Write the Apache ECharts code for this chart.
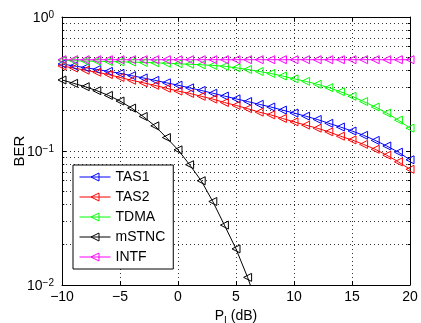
<!DOCTYPE html>
<html>
<head>
<meta charset="utf-8">
<script src="https://cdn.jsdelivr.net/npm/echarts@6/dist/echarts.min.js"></script>
<style>
html, body { margin: 0; padding: 0; background: #fff; }
#chart { width: 421px; height: 323px; }
</style>
</head>
<body>
<div id="chart"></div>
<script>
// P_I in dB, one point per dB
const snr = [-10, -9, -8, -7, -6, -5, -4, -3, -2, -1, 0, 1, 2, 3, 4, 5, 6, 7, 8, 9, 10,
             11, 12, 13, 14, 15, 16, 17, 18, 19, 20];

// BER
const tas1 = [0.446, 0.432, 0.419, 0.406, 0.393, 0.380, 0.365, 0.351, 0.337, 0.323, 0.310,
              0.296, 0.283, 0.270, 0.257, 0.245, 0.234, 0.223, 0.213, 0.202, 0.192,
              0.182, 0.172, 0.161, 0.151, 0.141, 0.131, 0.120, 0.109, 0.098, 0.086];
const tas2 = [0.431, 0.416, 0.401, 0.387, 0.372, 0.354, 0.337, 0.323, 0.309, 0.294, 0.280,
              0.269, 0.256, 0.244, 0.230, 0.219, 0.207, 0.195, 0.186, 0.175, 0.165,
              0.156, 0.148, 0.139, 0.129, 0.121, 0.112, 0.103, 0.093, 0.083, 0.073];
const tdma = [0.474, 0.472, 0.469, 0.468, 0.465, 0.463, 0.461, 0.458, 0.455, 0.452, 0.448,
              0.444, 0.440, 0.435, 0.429, 0.418, 0.406, 0.392, 0.379, 0.363, 0.346,
              0.331, 0.315, 0.297, 0.277, 0.256, 0.234, 0.213, 0.192, 0.170, 0.148];
// mSTNC drops out of the plot after 6 dB
const mstnc = [0.339, 0.320, 0.302, 0.282, 0.260, 0.236, 0.209, 0.181, 0.154, 0.126, 0.102,
               0.079, 0.060, 0.042, 0.028, 0.0186, 0.0114, 0.0065];
const intf = [0.48, 0.48, 0.48, 0.48, 0.48, 0.48, 0.48, 0.48, 0.48, 0.48, 0.48,
              0.48, 0.48, 0.48, 0.48, 0.48, 0.48, 0.48, 0.48, 0.48, 0.48,
              0.48, 0.48, 0.48, 0.48, 0.48, 0.48, 0.48, 0.48, 0.48, 0.48];

const names = ['TAS1', 'TAS2', 'TDMA', 'mSTNC', 'INTF'];
const lineColors = ['#0000ff', '#ff0000', '#00ff00', '#000000', '#ff00ff'];

// log minor grid positions (2..9 in each decade)
const minorY = [0.02, 0.03, 0.04, 0.05, 0.06, 0.07, 0.08, 0.09,
                0.2, 0.3, 0.4, 0.5, 0.6, 0.7, 0.8, 0.9];

const xMin = -10, xMax = 20;
const font = '"Liberation Sans", Arial, Helvetica, sans-serif';
const dotted = { color: '#333', width: 1, type: [1, 3] };
const hollow = 'rgba(255,255,255,0)';

function makeSeries(name, color, values) {
    return {
        name: name,
        type: 'line',
        data: values.map((v, i) => [snr[i], v]),
        symbol: 'triangle',
        symbolSize: 8,
        symbolRotate: 90,
        lineStyle: { color: color, width: 1 },
        itemStyle: { color: hollow, borderColor: color, borderWidth: 1 },
        emphasis: { disabled: true },
        z: 3
    };
}

const series = [
    // dotted minor grid for the log axis
    {
        name: 'minorGrid',
        type: 'line',
        data: [],
        silent: true,
        z: 1,
        markLine: {
            silent: true,
            z: 1,
            symbol: ['none', 'none'],
            label: { show: false },
            lineStyle: dotted,
            data: minorY.map(v => [{ coord: [xMin, v] }, { coord: [xMax, v] }])
        }
    },
    // small inward minor ticks on left and right borders
    {
        name: 'minorTicks',
        type: 'line',
        data: [],
        silent: true,
        z: 1,
        markLine: {
            silent: true,
            z: 1,
            symbol: ['none', 'none'],
            label: { show: false },
            lineStyle: { color: '#000', width: 1, type: 'solid' },
            data: minorY.map(v => [{ coord: [xMin, v] }, { coord: [xMin + 0.2, v] }])
                .concat(minorY.map(v => [{ coord: [xMax - 0.2, v] }, { coord: [xMax, v] }]))
        }
    }
];
series.push(makeSeries(names[0], lineColors[0], tas1));
series.push(makeSeries(names[1], lineColors[1], tas2));
series.push(makeSeries(names[2], lineColors[2], tdma));
series.push(makeSeries(names[3], lineColors[3], mstnc));
series.push(makeSeries(names[4], lineColors[4], intf));

function minus(n) {
    return n < 0 ? '\u2212' + (-n) : String(n);
}

const option = {
    animation: false,
    textStyle: { fontFamily: font, color: '#000' },
    grid: { left: 62, right: 11, top: 17, bottom: 38, containLabel: false, outerBoundsMode: 'none' },
    legend: {
        data: names.map((n, i) => ({
            name: n,
            itemStyle: { color: hollow, borderColor: lineColors[i], borderWidth: 1 },
            lineStyle: { color: lineColors[i], width: 1 }
        })),
        orient: 'vertical',
        left: 73,
        top: 165,
        padding: [5, 8, 5, 6],
        itemGap: 6,
        itemWidth: 31,
        itemHeight: 10,
        backgroundColor: '#fff',
        borderColor: '#000',
        borderWidth: 1,
        borderRadius: 0,
        selectedMode: false,
        textStyle: { fontSize: 14, color: '#000', fontFamily: font, lineHeight: 14 }
    },
    xAxis: [
        {
            type: 'value',
            min: xMin,
            max: xMax,
            interval: 5,
            name: 'P{sub|I} (dB)',
            nameLocation: 'middle',
            nameGap: 21,
            nameMoveOverlap: false,
            nameTextStyle: {
                fontSize: 14, color: '#000', fontFamily: font,
                rich: {
                    sub: { fontSize: 10, fontFamily: font, color: '#000', padding: [10, 0, 0, 0] }
                }
            },
            axisLine: { onZero: false, lineStyle: { color: '#000', width: 1 } },
            axisTick: { inside: true, length: 4, lineStyle: { color: '#000' } },
            axisLabel: { fontSize: 14, color: '#000', margin: 5, formatter: v => minus(v) },
            splitLine: { show: true, lineStyle: dotted }
        },
        {
            type: 'value',
            position: 'top',
            min: xMin,
            max: xMax,
            interval: 5,
            axisLine: { onZero: false, lineStyle: { color: '#000', width: 1 } },
            axisTick: { inside: true, length: 4, lineStyle: { color: '#000' } },
            axisLabel: { show: false },
            splitLine: { show: false }
        }
    ],
    yAxis: [
        {
            type: 'log',
            logBase: 10,
            min: 0.01,
            max: 1,
            name: 'BER',
            nameLocation: 'middle',
            nameGap: 35,
            nameMoveOverlap: false,
            nameTextStyle: { fontSize: 15, color: '#000', fontFamily: font },
            axisLine: { onZero: false, lineStyle: { color: '#000', width: 1 } },
            axisTick: { inside: true, length: 4, lineStyle: { color: '#000' } },
            axisLabel: {
                margin: 8,
                formatter: function (v) {
                    const e = Math.round(Math.log10(v));
                    return '{b|10}{s|' + minus(e) + '}';
                },
                rich: {
                    b: { fontSize: 14, color: '#000', fontFamily: font, lineHeight: 14, padding: [7, 0, 5, 0] },
                    s: { fontSize: 10, color: '#000', fontFamily: font, lineHeight: 10, verticalAlign: 'top' }
                }
            },
            splitLine: { show: true, lineStyle: dotted }
        },
        {
            type: 'log',
            logBase: 10,
            min: 0.01,
            max: 1,
            position: 'right',
            axisLine: { onZero: false, lineStyle: { color: '#000', width: 1 } },
            axisTick: { inside: true, length: 4, lineStyle: { color: '#000' } },
            axisLabel: { show: false },
            splitLine: { show: false }
        }
    ],
    series: series
};

const chart = echarts.init(document.getElementById('chart'), null, { renderer: 'canvas' });
chart.setOption(option);
</script>
</body>
</html>
